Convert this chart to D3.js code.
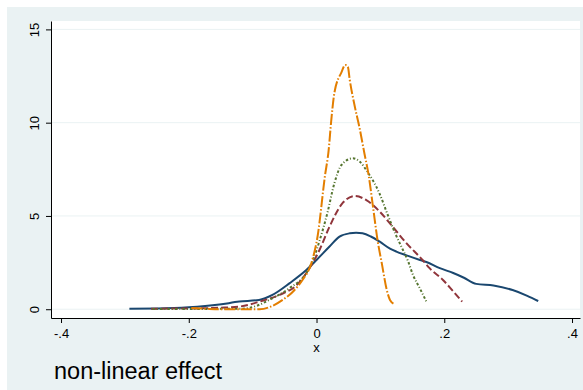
<!DOCTYPE html>
<html>
<head>
<meta charset="utf-8">
<script src="https://cdn.jsdelivr.net/npm/d3@7"></script>
<style>
  body { margin: 0; background: #fff; }
  svg { display: block; font-family: "Liberation Sans", Arial, sans-serif; }
</style>
</head>
<body>
<div id="chart"></div>
<script>
// kernel density curves
const navyX = [-0.293, -0.25, -0.2, -0.152, -0.121, -0.09, -0.069, -0.042, -0.016, 0, 0.02, 0.036, 0.052, 0.062, 0.072, 0.085, 0.099, 0.115, 0.125, 0.14, 0.162, 0.172, 0.193, 0.214, 0.23, 0.25, 0.277, 0.307, 0.33, 0.347]
const navyY = [0.03, 0.04, 0.1, 0.25, 0.41, 0.5, 0.77, 1.4, 2.1, 2.64, 3.35, 3.89, 4.07, 4.1, 4.07, 3.9, 3.62, 3.25, 3.09, 2.9, 2.64, 2.53, 2.2, 1.94, 1.7, 1.36, 1.27, 1.03, 0.72, 0.44]

const maroonX = [-0.259, -0.2, -0.15, -0.121, -0.089, -0.058, -0.031, -0.011, 0.005, 0.02, 0.041, 0.06, 0.078, 0.099, 0.119, 0.141, 0.166, 0.177, 0.198, 0.213, 0.228]
const maroonY = [0.03, 0.04, 0.08, 0.14, 0.41, 0.77, 1.3, 2.2, 3.2, 4.4, 5.7, 6.07, 5.85, 5.23, 4.43, 3.53, 2.64, 2.2, 1.57, 1.0, 0.41]

const greenX = [-0.257, -0.2, -0.15, -0.12, -0.094, -0.074, -0.042, -0.016, -0.006, 0.005, 0.017, 0.028, 0.039, 0.057, 0.068, 0.08, 0.098, 0.111, 0.124, 0.135, 0.143, 0.151, 0.162, 0.172]
const greenY = [0.01, 0.01, 0.02, 0.02, 0.18, 0.5, 1.14, 1.94, 2.6, 3.7, 5.16, 6.76, 7.73, 8.09, 7.9, 7.35, 6.25, 5.1, 4.0, 3.2, 2.6, 1.84, 1.1, 0.41]

const orangeX = [-0.196, -0.17, -0.15, -0.12, -0.089, -0.069, -0.053, -0.037, -0.022, -0.008, 0.002, 0.013, 0.019, 0.023, 0.028, 0.039, 0.045, 0.049, 0.052, 0.06, 0.067, 0.075, 0.082, 0.088, 0.096, 0.102, 0.11, 0.115, 0.122]
const orangeY = [0.07, 0.02, 0.0, 0.0, 0.0, 0.18, 0.5, 0.94, 1.57, 2.48, 3.98, 7.1, 8.53, 10.1, 11.6, 12.7, 13.09, 13.0, 12.3, 10.85, 9.78, 8.35, 7.1, 5.6, 3.6, 2.5, 1.03, 0.5, 0.28]

const X_TICKS = [-0.4, -0.2, 0, 0.2, 0.4]
const X_TICK_LABELS = ["-.4", "-.2", "0", ".2", ".4"]
const Y_TICKS = [0, 5, 10, 15]
const Y_TICK_LABELS = ["0", "5", "10", "15"]

const X_TITLE = "x"
const CAPTION = "non-linear effect"

const WIDTH = 583, HEIGHT = 390
const PLOT = { LEFT: 51, RIGHT: 580, TOP: 21, BOTTOM: 318 }

const series = [
    { xs: navyX, ys: navyY, color: "#1a476f", dash: null },
    { xs: maroonX, ys: maroonY, color: "#90353b", dash: "7,3" },
    { xs: greenX, ys: greenY, color: "#55752f", dash: "2.5,2,1,2" },
    { xs: orangeX, ys: orangeY, color: "#e37e00", dash: "11,2,1.5,2" }
]

const svg = d3.select("#chart").append("svg")
    .attr("width", WIDTH)
    .attr("height", HEIGHT)

// outer graph region
svg.append("rect")
    .attr("x", 7).attr("y", 7)
    .attr("width", WIDTH - 7).attr("height", HEIGHT - 7)
    .attr("fill", "#eaf2f3")

// plot region
svg.append("rect")
    .attr("x", PLOT.LEFT).attr("y", PLOT.TOP)
    .attr("width", PLOT.RIGHT - PLOT.LEFT).attr("height", PLOT.BOTTOM - PLOT.TOP)
    .attr("fill", "#ffffff")

// domains padded so that the axis lines run the full plot region
const x = d3.scaleLinear()
    .domain([-0.4157, 0.4125])
    .range([PLOT.LEFT, PLOT.RIGHT])

const y = d3.scaleLinear()
    .domain([-0.47, 15.45])
    .range([PLOT.BOTTOM, PLOT.TOP])

// gridlines
svg.append("g")
    .selectAll("line")
    .data(Y_TICKS)
    .enter().append("line")
        .attr("x1", PLOT.LEFT).attr("x2", PLOT.RIGHT)
        .attr("y1", d => y(d)).attr("y2", d => y(d))
        .attr("stroke", "#eaf2f3")
        .attr("stroke-width", 1)

// curves
const line = d3.line()
    .x(d => x(d[0]))
    .y(d => y(d[1]))
    .curve(d3.curveMonotoneX)

svg.append("g")
    .selectAll("path")
    .data(series)
    .enter().append("path")
        .attr("d", s => line(s.xs.map((v, i) => [v, s.ys[i]])))
        .attr("fill", "none")
        .attr("stroke", s => s.color)
        .attr("stroke-width", 2)
        .attr("stroke-dasharray", s => s.dash)

// axes
const xAxisCall = d3.axisBottom(x)
    .tickValues(X_TICKS)
    .tickFormat((d, i) => X_TICK_LABELS[i])
    .tickSize(5)
    .tickSizeOuter(0)
    .tickPadding(6)

const xAxisGroup = svg.append("g")
    .attr("transform", `translate(0,${PLOT.BOTTOM})`)
    .call(xAxisCall)
xAxisGroup.selectAll("text")
    .attr("font-size", 13)
    .attr("fill", "#000")
xAxisGroup.selectAll("line, path").attr("stroke", "#000")
xAxisGroup.attr("font-family", null)

const yAxisCall = d3.axisLeft(y)
    .tickValues(Y_TICKS)
    .tickFormat((d, i) => Y_TICK_LABELS[i])
    .tickSize(5)
    .tickSizeOuter(0)

const yAxisGroup = svg.append("g")
    .attr("transform", `translate(${PLOT.LEFT},0)`)
    .call(yAxisCall)
yAxisGroup.selectAll("text")
    .attr("transform", "rotate(-90)")
    .attr("x", 0)
    .attr("y", -12)
    .attr("dy", 0)
    .attr("text-anchor", "middle")
    .attr("font-size", 13)
    .attr("fill", "#000")
yAxisGroup.selectAll("line, path").attr("stroke", "#000")
yAxisGroup.attr("font-family", null)

// axis title
svg.append("text")
    .attr("x", x(0))
    .attr("y", 352)
    .attr("text-anchor", "middle")
    .attr("font-size", 13)
    .text(X_TITLE)

// note at the bottom
svg.append("text")
    .attr("x", 54)
    .attr("y", 379)
    .attr("font-size", 23.5)
    .text(CAPTION)
</script>
</body>
</html>
